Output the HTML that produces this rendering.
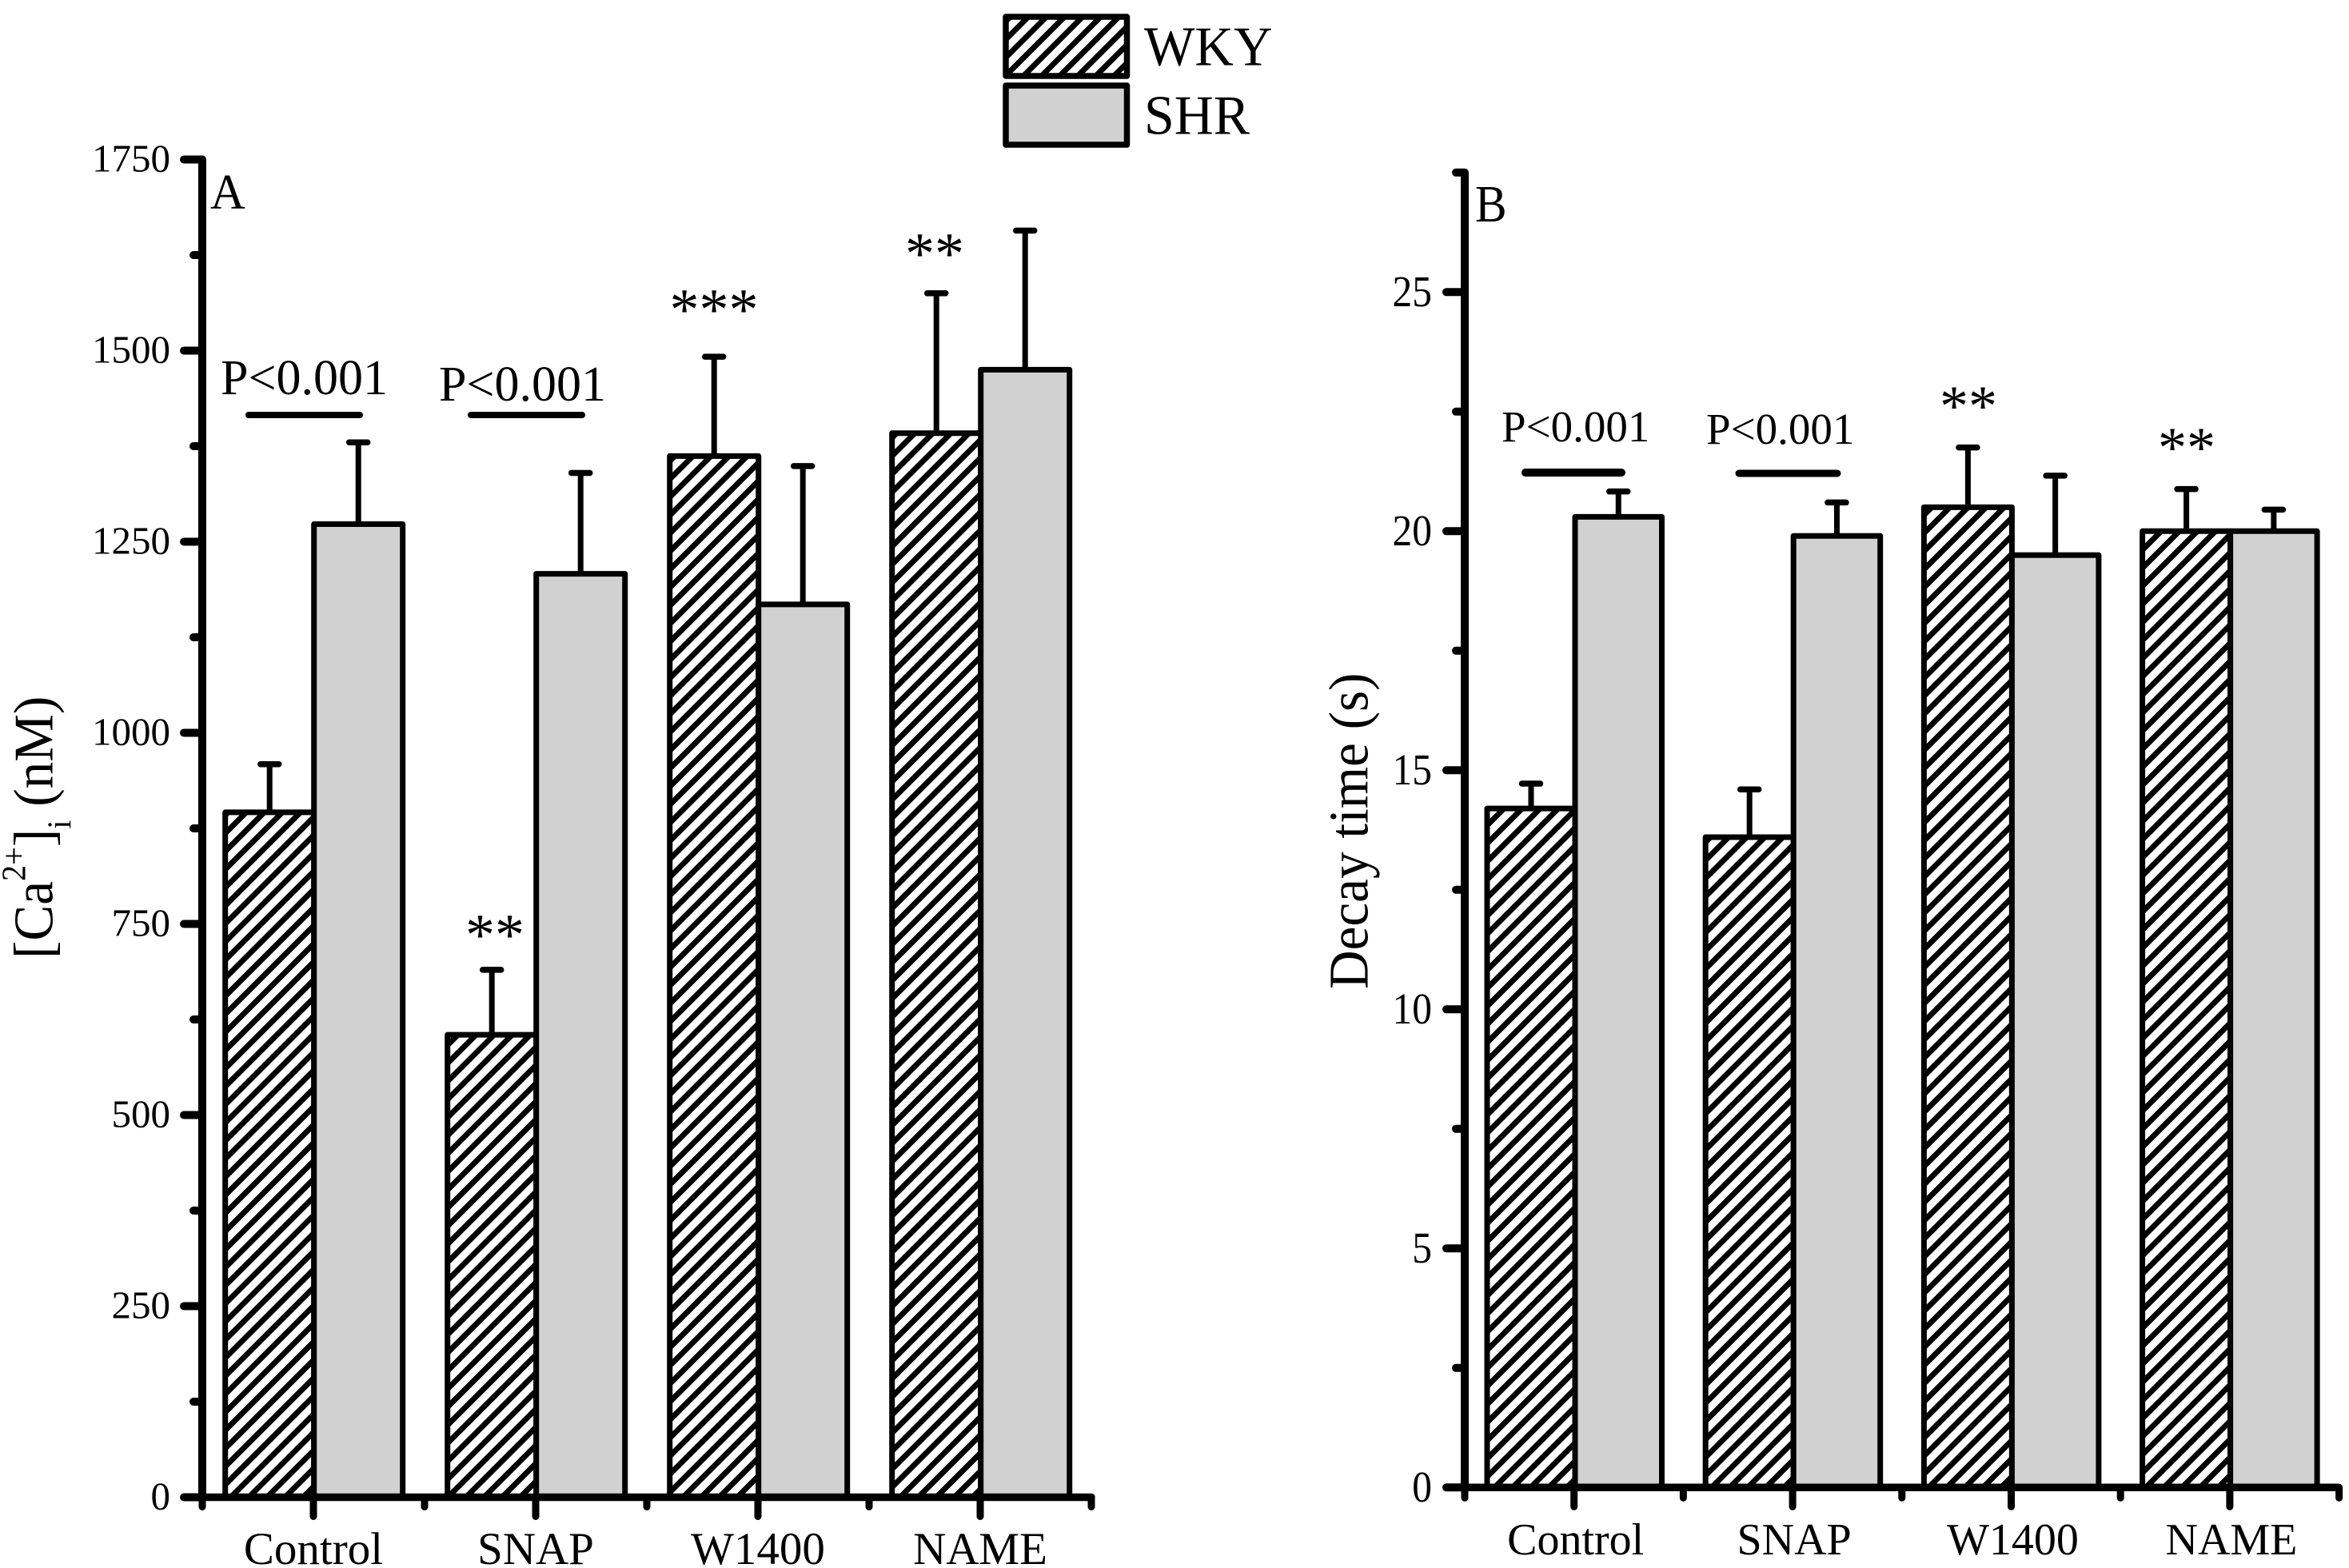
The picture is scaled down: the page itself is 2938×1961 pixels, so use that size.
<!DOCTYPE html>
<html lang="en">
<head>
<meta charset="utf-8">
<title>Ca2+ and decay time bar charts</title>
<style>
html,body{margin:0;padding:0;background:#fff;}
svg{display:block;}
text{font-family:"Liberation Serif",serif;fill:#000;}
</style>
</head>
<body>
<svg id="chart" xmlns="http://www.w3.org/2000/svg" width="2938" height="1961" viewBox="0 0 2938 1961">
  <defs>
    <pattern id="hatchA" patternUnits="userSpaceOnUse" width="16" height="16" patternTransform="rotate(45) translate(4.6 0)">
      <rect width="16" height="16" fill="#fff"></rect>
      <rect width="7" height="16" fill="#000"></rect>
    </pattern>
    <pattern id="hatchB" patternUnits="userSpaceOnUse" width="16" height="16" patternTransform="rotate(45) translate(9.65 0)">
      <rect width="16" height="16" fill="#fff"></rect>
      <rect width="7" height="16" fill="#000"></rect>
    </pattern>
    <pattern id="hatchLegend" patternUnits="userSpaceOnUse" width="16" height="16" patternTransform="rotate(45) translate(8.84 0)">
      <rect width="16" height="16" fill="#fff"></rect>
      <rect width="7" height="16" fill="#000"></rect>
    </pattern>
  </defs>
  <g id="panelA"></g>
  <g id="panelB"></g>

  <g>
    <rect x="1258" y="21" width="151.5" height="74" fill="url(#hatchLegend)" stroke="#000" stroke-width="7.5" stroke-linejoin="round"></rect>
    <rect x="1258" y="107" width="151.5" height="74" fill="#d1d1d1" stroke="#000" stroke-width="7.5" stroke-linejoin="round"></rect>
    <text transform="translate(1431,81.7) scale(.96,1)" font-size="70">WKY</text>
    <text transform="translate(1431,167.7) scale(.97,1)" font-size="70">SHR</text>
  </g>

  <text transform="translate(263,261) scale(.96,1)" font-size="63">A</text>
  <text transform="translate(1845,277) scale(.9,1)" font-size="66">B</text>

  <text transform="translate(65.5,1199) rotate(-90) scale(.96,1)" font-size="70">[Ca<tspan font-size="42" dy="-34">2+</tspan><tspan dy="34">]</tspan><tspan font-size="42" dy="23">i</tspan><tspan dy="-23"> (nM)</tspan></text>
  <text transform="translate(1710.7,1237) rotate(-90) scale(.96,1)" font-size="70">Decay time (s)</text>

  <g>
    <text x="276" y="493" font-size="62">P&lt;0.001</text>
    <text x="549" y="501" font-size="62">P&lt;0.001</text>
    <line x1="311" x2="450" y1="519" y2="519" stroke="#000" stroke-width="8" stroke-linecap="round"></line>
    <line x1="589" x2="728" y1="519" y2="519" stroke="#000" stroke-width="8" stroke-linecap="round"></line>
    <text x="619" y="1194" font-size="74" text-anchor="middle">**</text>
    <text x="893" y="412" font-size="74" text-anchor="middle">***</text>
    <text x="1169" y="342" font-size="74" text-anchor="middle">**</text>
  </g>
  <g>
    <text x="1878" y="552" font-size="55">P&lt;0.001</text>
    <text x="2134" y="555" font-size="55">P&lt;0.001</text>
    <line x1="1908" x2="2028" y1="591" y2="591" stroke="#000" stroke-width="10" stroke-linecap="round"></line>
    <line x1="2175" x2="2298" y1="592" y2="592" stroke="#000" stroke-width="9" stroke-linecap="round"></line>
    <text x="2462" y="532" font-size="72" text-anchor="middle">**</text>
    <text x="2735" y="584" font-size="72" text-anchor="middle">**</text>
  </g>
</svg>
<script>
var categories = ['Control', 'SNAP', 'W1400', 'NAME'];

var caWky = [896, 605, 1362, 1392];
var caWkyErr = [63, 85, 130, 183];
var caShr = [1273, 1208, 1168, 1475];
var caShrErr = [107, 132, 181, 182];
var caTicks = [0, 250, 500, 750, 1000, 1250, 1500, 1750];
var caMinorTicks = [125, 375, 625, 875, 1125, 1375, 1625];

var decayWky = [14.2, 13.6, 20.5, 20.0];
var decayWkyErr = [0.52, 1.0, 1.25, 0.88];
var decayShr = [20.3, 19.9, 19.5, 20.0];
var decayShrErr = [0.53, 0.7, 1.66, 0.45];
var decayTicks = [0, 5, 10, 15, 20, 25];
var decayMinorTicks = [2.5, 7.5, 12.5, 17.5, 22.5, 27.5];

var SVGNS = 'http://www.w3.org/2000/svg';

function make(tag, attrs, parent) {
  var el = document.createElementNS(SVGNS, tag);
  for (var k in attrs) { el.setAttribute(k, attrs[k]); }
  parent.appendChild(el);
  return el;
}

function drawPanel(cfg) {
  var root = document.getElementById(cfg.id);
  var yOf = function (v) { return cfg.y0 - v * cfg.slope; };
  var i, el, c, xL, xR, top, cap;

  for (i = 0; i < categories.length; i++) {
    c = cfg.group0 + cfg.groupStep * i;
    xL = c + cfg.leftOff;
    xR = c + cfg.rightOff;

    // WKY error bar
    cap = yOf(cfg.wky[i] + cfg.wkyErr[i]);
    top = yOf(cfg.wky[i]);
    el = make('line', {x1: (xL + c) / 2, x2: (xL + c) / 2, y1: top, y2: cap, stroke: '#000', 'stroke-width': 7}, root);
    
    
    el = make('line', {x1: (xL + c) / 2 - 11.5, x2: (xL + c) / 2 + 11.5, y1: cap, y2: cap, stroke: '#000', 'stroke-width': 7.5, 'stroke-linecap': 'round'}, root);
    
    

    // SHR error bar
    cap = yOf(cfg.shr[i] + cfg.shrErr[i]);
    top = yOf(cfg.shr[i]);
    el = make('line', {x1: (xR + c) / 2, x2: (xR + c) / 2, y1: top, y2: cap, stroke: '#000', 'stroke-width': 7}, root);
    
    
    el = make('line', {x1: (xR + c) / 2 - 11.5, x2: (xR + c) / 2 + 11.5, y1: cap, y2: cap, stroke: '#000', 'stroke-width': 7.5, 'stroke-linecap': 'round'}, root);
    
    

    // WKY bar
    top = yOf(cfg.wky[i]);
    el = make('rect', {x: xL, y: top, width: c - xL, height: cfg.y0 - top, fill: 'url(#' + cfg.hatch + ')', stroke: '#000', 'stroke-width': 7, 'stroke-linejoin': 'round'}, root);
    
    

    // SHR bar
    top = yOf(cfg.shr[i]);
    el = make('rect', {x: c, y: top, width: xR - c, height: cfg.y0 - top, fill: '#d1d1d1', stroke: '#000', 'stroke-width': 7, 'stroke-linejoin': 'round'}, root);
    
    
  }

  // Y axis line
  el = make('line', {x1: cfg.axisX, x2: cfg.axisX, y1: yOf(cfg.yTop), y2: cfg.y0, stroke: '#000', 'stroke-width': 10}, root);
  
  

  // X axis line
  el = make('line', {x1: cfg.axisX - 22, x2: cfg.xEnd, y1: cfg.y0, y2: cfg.y0, stroke: '#000', 'stroke-width': 9.5, 'stroke-linecap': 'round'}, root);
  
  

  // Y ticks
  cfg.ticks.forEach(function (t) {
    var y = yOf(t);
    var tk = make('line', {x1: cfg.axisX - 23, x2: cfg.axisX, y1: y, y2: y, stroke: '#000', 'stroke-width': 10, 'stroke-linecap': 'round'}, root);
    
    
    var lb = make('text', {transform: 'translate(' + cfg.labelRight + ',' + (y + cfg.labelDy) + ') scale(' + cfg.labelScale + ',1)', 'font-size': cfg.tickFont, 'text-anchor': 'end'}, root);
    lb.textContent = String(t);
    
    
  });
  cfg.minor.forEach(function (t) {
    var y = yOf(t);
    var tk = make('line', {x1: cfg.axisX - 11, x2: cfg.axisX, y1: y, y2: y, stroke: '#000', 'stroke-width': 10, 'stroke-linecap': 'round'}, root);
    
    
  });

  // X ticks and labels
  for (i = 0; i <= categories.length; i++) {
    var mx = cfg.axisX + cfg.tickStep * i;
    el = make('line', {x1: mx, x2: mx, y1: cfg.y0, y2: cfg.y0 + cfg.minorLen, stroke: '#000', 'stroke-width': 9, 'stroke-linecap': 'round'}, root);
    
    
  }
  categories.forEach(function (name, n) {
    var tx = cfg.axisX + cfg.tickStep * (n + 0.5);
    var tk = make('line', {x1: tx, x2: tx, y1: cfg.y0, y2: cfg.y0 + 24, stroke: '#000', 'stroke-width': 9, 'stroke-linecap': 'round'}, root);
    
    
    var lb = make('text', {x: tx + cfg.catDx, y: cfg.catBaseline, 'font-size': cfg.catFont, 'text-anchor': 'middle'}, root);
    lb.textContent = name;
    
    
  });
}

drawPanel({
  id: 'panelA', y0: 1872.5, slope: 0.956, yTop: 1750, hatch: 'hatchA',
  wky: caWky, wkyErr: caWkyErr, shr: caShr, shrErr: caShrErr,
  ticks: caTicks, minor: caMinorTicks,
  axisX: 253, tickStep: 278, group0: 392.7, groupStep: 278, leftOff: -111, rightOff: 111,
  xEnd: 1365, minorLen: 12, labelRight: 213, labelDy: 15, labelScale: 1, tickFont: 49,
  catBaseline: 1956, catFont: 57, catDx: 0
});

drawPanel({
  id: 'panelB', y0: 1860.3, slope: 59.8, yTop: 27.5, hatch: 'hatchB',
  wky: decayWky, wkyErr: decayWkyErr, shr: decayShr, shrErr: decayShrErr,
  ticks: decayTicks, minor: decayMinorTicks,
  axisX: 1832, tickStep: 273.4, group0: 1970, groupStep: 273.2, leftOff: -110, rightOff: 108.5,
  xEnd: 2925, minorLen: 13, labelRight: 1791, labelDy: 17.5, labelScale: 0.9, tickFont: 55,
  catBaseline: 1944, catFont: 56, catDx: 2
});
</script>
</body>
</html>
